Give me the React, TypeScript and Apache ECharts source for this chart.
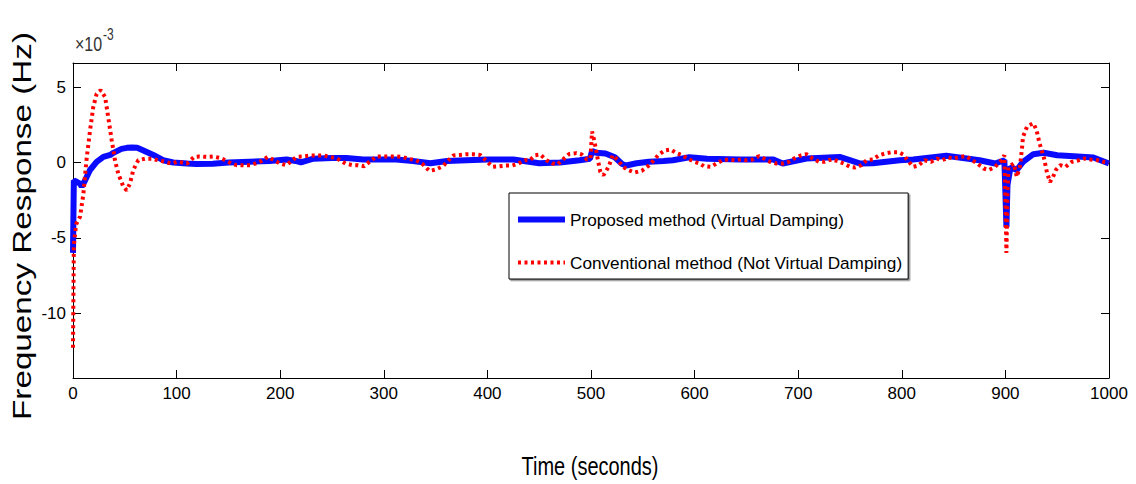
import React, { useEffect, useRef } from "react";
import * as echarts from "echarts";

const xTicks = [0, 100, 200, 300, 400, 500, 600, 700, 800, 900, 1000];
const yTicks = [-10, -5, 0, 5];
const seriesNames = [
  "Proposed method (Virtual Damping)",
  "Conventional method (Not Virtual Damping)",
];

// values in units of 1e-3 Hz, [time (s), value]
const proposedData: [number, number][] = [
  [0, -6], [0.8, -1.2], [4, -1.3], [6.8, -1.4], [8.4, -1.6], [11.6, -1.2], [16.4, -0.5],
  [22.8, 0.04], [29.3, 0.37], [36, 0.5], [39, 0.64], [46.8, 0.9], [52, 0.97], [57, 1.0],
  [62, 0.98], [68, 0.8], [77.5, 0.5], [87, 0.15], [96.8, 0.0], [110, -0.07], [119, -0.1],
  [135, -0.08], [150, 0.0], [170, 0.05], [190, 0.1], [206, 0.2], [215, 0.1], [220, 0.0],
  [232, 0.25], [250, 0.3], [264, 0.3], [280, 0.2], [296, 0.2], [312, 0.2], [328, 0.1],
  [345, -0.05], [361, 0.1], [380, 0.15], [400, 0.2], [425, 0.2], [450, -0.05], [470, 0.0],
  [489, 0.15], [499, 0.25], [501, 0.75], [505, 0.65], [514, 0.6], [523, 0.35], [530, -0.1],
  [534, -0.2], [544, -0.05], [556, 0.05], [570, 0.1], [579, 0.15], [595, 0.35], [612, 0.25],
  [644, 0.2], [676, 0.2], [685, -0.07], [708, 0.26], [740, 0.37], [752, 0.1], [760, -0.07],
  [772, -0.05], [798, 0.15], [811, 0.2], [843, 0.45], [875, 0.15], [890, -0.07], [899, 0.15],
  [900, -2.0], [901, -4.3], [902, -1.5], [905, -0.29], [911, -0.5], [917, 0.04], [927, 0.55],
  [937, 0.64], [950, 0.48], [966, 0.42], [985, 0.33], [1000, -0.07],
];

const conventionalData: [number, number][] = [
  [0, -12.3], [0.8, -5.5], [3, -4.1], [6.8, -3.6], [10, -2.1], [13, 0.15], [16.4, 2.1],
  [19.6, 3.7], [22.8, 4.55], [26.7, 4.8], [31, 4.35], [34, 3.0], [37.3, 1.5], [40.5, 0.15],
  [43.7, -0.75], [48.6, -1.6], [51.8, -1.85], [55, -1.4], [58.2, -0.5], [63, 0.15],
  [69.5, 0.25], [76, 0.25], [82, 0.15], [88.5, 0.05], [95, -0.07], [101, 0.05], [105, 0.0],
  [110, -0.07], [117, 0.37], [122, 0.4], [129, 0.37], [135, 0.4], [142, 0.3], [147, 0.15],
  [153, -0.07], [158, -0.18], [164, -0.18], [171, -0.18], [176, -0.07], [182, 0.1],
  [188, 0.37], [194, 0.15], [200, -0.07], [206, -0.18], [210, 0.05], [216, 0.37], [222, 0.4],
  [229, 0.46], [235, 0.46], [242, 0.46], [248, 0.37], [255, 0.26], [263, -0.07], [270, -0.18],
  [275, -0.18], [281, -0.25], [286, 0.04], [293, 0.4], [298, 0.4], [305, 0.4], [311, 0.4],
  [318, 0.37], [324, 0.24], [331, 0.15], [337, -0.07], [344, -0.56], [350, -0.47],
  [357, -0.25], [361, 0.04], [367, 0.46], [373, 0.5], [380, 0.55], [386, 0.55], [393, 0.5],
  [395, 0.37], [400, 0.04], [405, -0.29], [411, -0.26], [418, -0.2], [424, -0.2], [429, -0.1],
  [436, 0.15], [441, 0.15], [446, 0.48], [451, 0.53], [457, 0.15], [463, -0.07], [468, -0.12],
  [473, 0.2], [479, 0.57], [486, 0.62], [491, 0.53], [496, 0.2], [499.5, 0.26], [501, 2.05],
  [503, 1.5], [505, 0.8], [507, 0.04], [509, -0.62], [512, -0.84], [517, -0.29], [521, 0.48],
  [526, 0.15], [531, -0.29], [536, -0.5], [542, -0.67], [549, -0.55], [555, -0.25], [560, 0.1],
  [565, 0.5], [571, 0.8], [577, 0.86], [582, 0.64], [588, 0.48], [593, 0.26], [600, 0.04],
  [605, -0.07], [609, -0.25], [616, -0.29], [621, -0.07], [627, 0.15], [633, 0.2], [639, 0.15],
  [645, 0.2], [650, 0.15], [656, 0.2], [662, 0.42], [667, 0.26], [673, 0.04], [679, -0.07],
  [685, -0.07], [691, 0.04], [696, 0.26], [703, 0.48], [708, 0.55], [714, 0.26], [720, 0.04],
  [725, 0.04], [732, 0.2], [738, 0.1], [744, -0.07], [750, -0.29], [755, -0.33], [761, -0.18],
  [766, 0.15], [772, 0.2], [778, 0.48], [784, 0.6], [790, 0.68], [797, 0.68], [802, 0.5],
  [806, 0.1], [811, -0.29], [816, -0.2], [822, 0.15], [828, 0.04], [834, 0.26], [839, 0.15],
  [845, 0.33], [850, 0.26], [856, 0.37], [862, 0.42], [868, 0.15], [873, -0.07], [879, -0.4],
  [884, -0.5], [890, -0.29], [895, 0.04], [899, 0.48], [900, -2.5], [901, -6.0], [902, -2.0],
  [903, -0.29], [908, -0.07], [911, -0.95], [914, -0.29], [916, 0.93], [917, 1.7], [921, 2.4],
  [927, 2.6], [930, 2.15], [933, 1.26], [937, 0.37], [940, -0.62], [943, -1.3], [946, -0.95],
  [949, -0.47], [953, -0.18], [958, -0.29], [964, 0.04], [971, 0.15], [976, 0.26], [982, 0.2],
  [989, 0.15], [995, 0.04], [1000, 0.0],
];

const FONT = "'Liberation Sans', Arial, sans-serif";
const BLUE = "#0a0aff";
const RED = "#ff0000";

export default function App() {
  const ref = useRef<HTMLDivElement>(null);
  useEffect(() => {
    if (!ref.current) return;
    const chart = echarts.init(ref.current, undefined, { renderer: "svg" });
    const axisLineStyle = { color: "#000", width: 1 };
    const tickStyle = { inside: true, length: 8, lineStyle: { color: "#000", width: 1 } };
    const blueLine = { color: BLUE, width: 6 };
    const redLine = { color: RED, width: 4, type: [3, 3.5], cap: "butt" };
    chart.setOption({
      animation: false,
      backgroundColor: "#fff",
      grid: { left: 73, top: 63, right: 27, bottom: 106 },
      xAxis: [
        {
          type: "value",
          min: xTicks[0],
          max: xTicks[xTicks.length - 1],
          interval: 100,
          position: "bottom",
          axisLine: { show: true, onZero: false, lineStyle: axisLineStyle },
          axisTick: tickStyle,
          splitLine: { show: false },
          axisLabel: {
            margin: 7,
            fontSize: 17,
            color: "#000",
            fontFamily: FONT,
            formatter: (v: number) => String(v),
          },
        },
        {
          type: "value",
          min: xTicks[0],
          max: xTicks[xTicks.length - 1],
          interval: 100,
          position: "top",
          axisLine: { show: true, onZero: false, lineStyle: axisLineStyle },
          axisTick: tickStyle,
          splitLine: { show: false },
          axisLabel: { show: false },
        },
      ],
      yAxis: [
        {
          type: "value",
          min: -14.3,
          max: 6.6,
          position: "left",
          axisLine: { show: true, onZero: false, lineStyle: axisLineStyle },
          axisTick: { ...tickStyle, customValues: yTicks },
          splitLine: { show: false },
          axisLabel: {
            customValues: yTicks,
            margin: 7,
            fontSize: 17,
            color: "#000",
            fontFamily: FONT,
            formatter: (v: number) => String(v),
          },
        },
        {
          type: "value",
          min: -14.3,
          max: 6.6,
          position: "right",
          axisLine: { show: true, onZero: false, lineStyle: axisLineStyle },
          axisTick: { ...tickStyle, customValues: yTicks },
          splitLine: { show: false },
          axisLabel: { show: false },
        },
      ],
      legend: {
        orient: "vertical",
        left: 509,
        top: 193,
        padding: [18, 6, 8, 6],
        itemWidth: 47,
        itemHeight: 20,
        itemGap: 26,
        borderColor: "#000",
        borderWidth: 1,
        backgroundColor: "#fff",
        shadowColor: "rgba(0,0,0,0.45)",
        shadowOffsetX: 1.5,
        shadowOffsetY: 1.5,
        shadowBlur: 1,
        itemStyle: { opacity: 0 },
        textStyle: { fontSize: 17.2, color: "#000", fontFamily: FONT },
        data: [
          { name: seriesNames[0], itemStyle: { opacity: 0 }, lineStyle: blueLine },
          { name: seriesNames[1], itemStyle: { opacity: 0 }, lineStyle: redLine },
        ],
      },
      graphic: [
        {
          type: "text",
          x: 590,
          y: 466,
          scaleY: 1.33,
          style: {
            text: "Time (seconds)",
            fontSize: 20,
            fontFamily: FONT,
            fill: "#000",
            align: "center",
            verticalAlign: "middle",
          },
        },
        {
          type: "text",
          x: 22,
          y: 226,
          rotation: Math.PI / 2,
          scaleX: 1.33,
          style: {
            text: "Frequency Response (Hz)",
            fontSize: 25,
            fontFamily: FONT,
            fill: "#000",
            align: "center",
            verticalAlign: "middle",
          },
        },
        {
          type: "text",
          x: 75,
          y: 44,
          scaleY: 1.3,
          style: {
            text: "×10",
            fontSize: 16,
            fontFamily: FONT,
            fill: "#333",
            align: "left",
            verticalAlign: "middle",
          },
        },
        {
          type: "text",
          x: 103,
          y: 34,
          scaleY: 1.3,
          style: {
            text: "-3",
            fontSize: 12,
            fontFamily: FONT,
            fill: "#333",
            align: "left",
            verticalAlign: "middle",
          },
        },
      ],
      series: [
        {
          name: seriesNames[0],
          type: "line",
          data: proposedData,
          showSymbol: false,
          symbol: "none",
          xAxisIndex: 0,
          yAxisIndex: 0,
          lineStyle: blueLine,
          itemStyle: { color: BLUE },
          z: 2,
        },
        {
          name: seriesNames[1],
          type: "line",
          data: conventionalData,
          showSymbol: false,
          symbol: "none",
          xAxisIndex: 0,
          yAxisIndex: 0,
          lineStyle: redLine,
          itemStyle: { color: RED },
          z: 3,
        },
      ],
    });
    return () => chart.dispose();
  }, []);
  return (
    <div
      ref={ref}
      style={{ position: "fixed", left: 0, top: 0, width: 1136, height: 484 }}
    />
  );
}
